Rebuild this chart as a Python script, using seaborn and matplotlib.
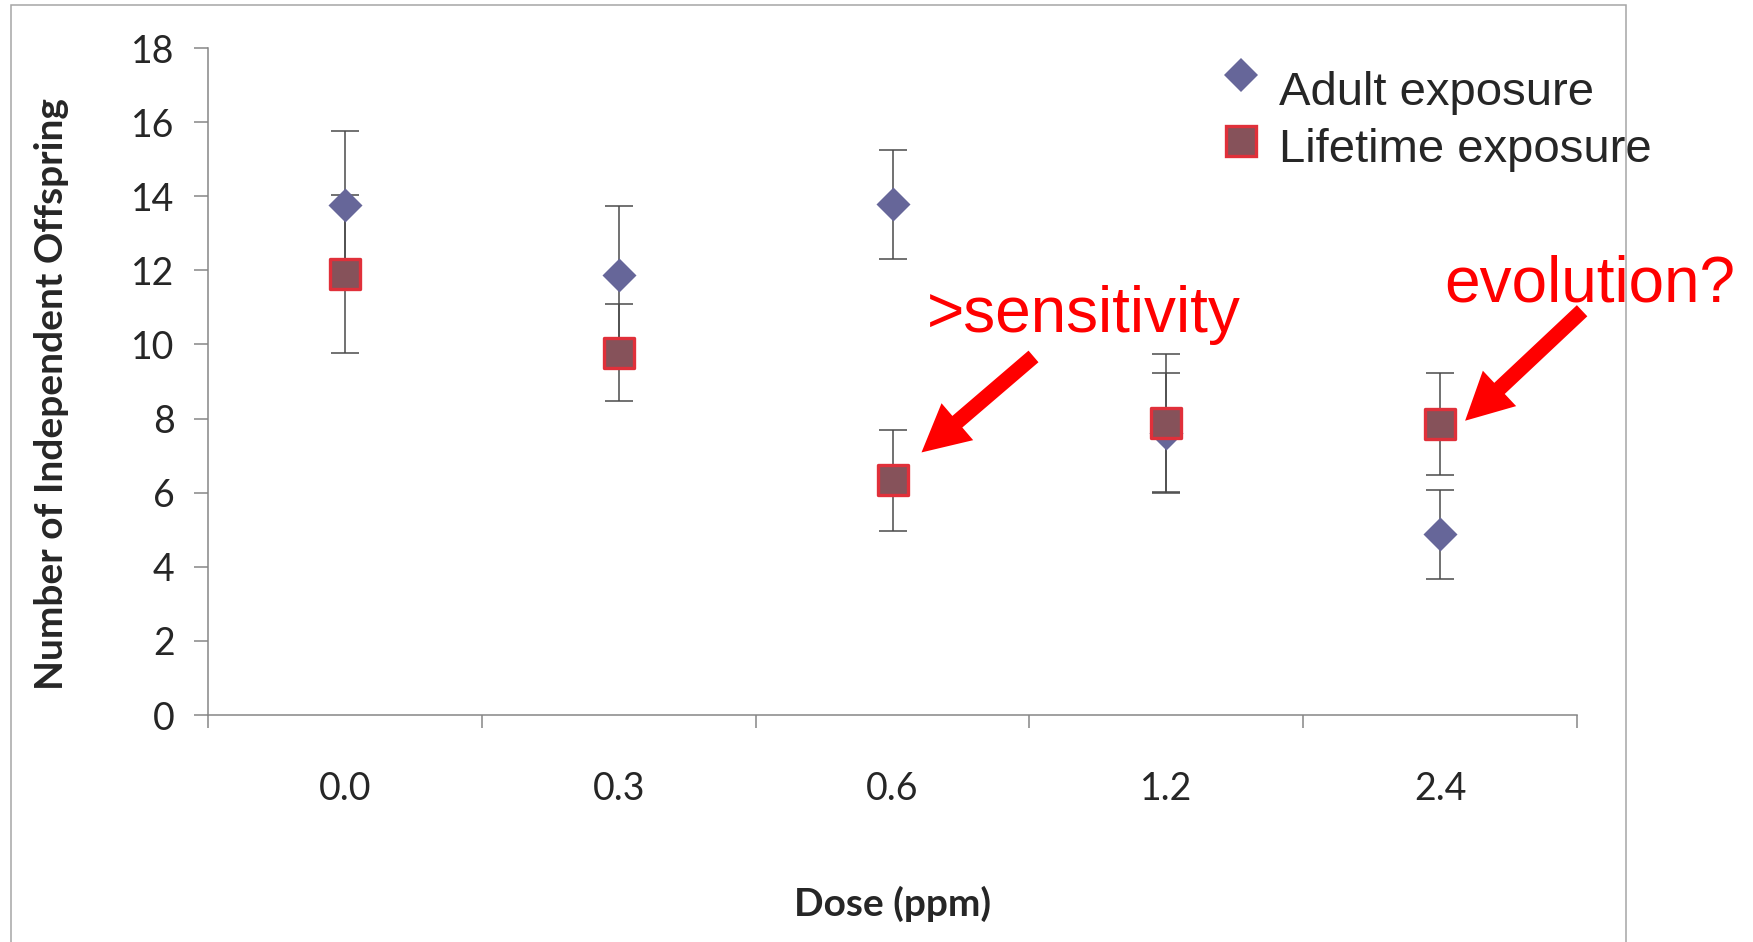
import matplotlib
matplotlib.use("Agg")
import matplotlib.pyplot as plt
import seaborn as sns
import numpy as np
import pandas as pd
from matplotlib.lines import Line2D
from matplotlib.patches import Rectangle
from matplotlib.transforms import offset_copy
from matplotlib.legend_handler import HandlerLine2D

# data
doses = ["0.0", "0.3", "0.6", "1.2", "2.4"]
adult_mean = [13.75, 11.88, 13.78, 7.6, 4.88]
adult_err = [2.02, 1.85, 1.47, 1.62, 1.2]
life_mean = [11.9, 9.78, 6.33, 7.87, 7.86]
life_err = [2.12, 1.3, 1.36, 1.86, 1.37]
y_ticks = [0, 2, 4, 6, 8, 10, 12, 14, 16, 18]

adult = pd.DataFrame({"dose": doses, "mean": adult_mean, "err": adult_err})
life = pd.DataFrame({"dose": doses, "mean": life_mean, "err": life_err})


class RaisedHandler(HandlerLine2D):
    # legend marker sits a bit above the text centre, like the original
    def __init__(self, dy, **kw):
        super().__init__(**kw)
        self.dy = dy

    def create_artists(self, legend, orig_handle, xdescent, ydescent,
                       width, height, fontsize, trans):
        return super().create_artists(legend, orig_handle, xdescent,
                                      ydescent - self.dy, width, height,
                                      fontsize, trans)


sns.set_style("white")
plt.rcParams["font.family"] = ["Lato", "DejaVu Sans"]

W, H = 1753, 942
fig = plt.figure(figsize=(W / 100, H / 100), dpi=100)
ax = fig.add_axes([208 / W, 1 - 715 / H, (1577 - 208) / W, (715 - 48) / H])
ax.patch.set_alpha(0)

axis_grey = "#868686"
bar_grey = "#4a4a4a"
adult_col = "#666699"
life_fill = "#86525a"
life_edge = "#e0303a"

# error bars
ax.errorbar(adult["dose"], adult["mean"], yerr=adult["err"], fmt="none",
            ecolor=bar_grey, elinewidth=1.1, capsize=10, capthick=1.1, zorder=2)
ax.errorbar(life["dose"], life["mean"], yerr=life["err"], fmt="none",
            ecolor=bar_grey, elinewidth=1.1, capsize=10, capthick=1.1, zorder=2)

# markers
sns.scatterplot(data=adult, x="dose", y="mean", marker="D", s=300,
                color=adult_col, linewidth=0, ax=ax, zorder=3)
sns.scatterplot(data=life, x="dose", y="mean", marker="s", s=484,
                color=life_fill, edgecolor=life_edge, linewidth=2.4, ax=ax, zorder=4)

ax.set_xlim(-0.5, len(doses) - 0.5)
ax.set_ylim(0, 18)
ax.set_yticks(y_ticks)

for s in ["top", "right"]:
    ax.spines[s].set_visible(False)
for s in ["left", "bottom"]:
    ax.spines[s].set_color(axis_grey)
    ax.spines[s].set_linewidth(1.1)

ax.tick_params(axis="y", length=10, width=1.1, color=axis_grey, pad=14,
               labelsize=27, left=True)
ax.tick_params(axis="x", which="major", length=0, pad=40, labelsize=27)
ax.set_xticks(np.arange(len(doses) + 1) - 0.5, minor=True)
ax.tick_params(axis="x", which="minor", length=9.5, width=1.1, color=axis_grey,
               bottom=True)

ax.set_xlabel("Dose (ppm)", fontsize=28, fontweight="bold", va="center")
ax.set_ylabel("Number of Independent Offspring", fontsize=28,
              fontweight="bold", va="center")
ax.xaxis.set_label_coords(0.5, (715 - 904) / 667)
ax.yaxis.set_label_coords((52 - 208) / 1369, (715 - 394) / 667)

# legend
handles = [
    Line2D([], [], marker="D", ms=17.3, color=adult_col, lw=0, mew=0),
    Line2D([], [], marker="s", ms=22, mfc=life_fill, mec=life_edge, mew=2.4, lw=0),
]
fig.legend(handles, ["Adult exposure", "Lifetime exposure"], loc="upper left",
           bbox_to_anchor=(1194 / W, 1 - 47 / H), frameon=False, borderpad=0,
           handlelength=1.0, handletextpad=0.31, labelspacing=0.29,
           prop={"family": "Liberation Sans", "size": 34},
           handler_map={handles[0]: RaisedHandler(19),
                        handles[1]: RaisedHandler(6.5)})

# annotations
arrow = dict(arrowstyle="simple,head_length=3.4,head_width=3.5,tail_width=1.1",
             mutation_scale=10, color="red", lw=0, shrinkA=0, shrinkB=0)
ax.annotate("", xy=(2, life_mean[2]),
            xycoords=offset_copy(ax.transData, fig=fig, x=29, y=28, units="dots"),
            xytext=(112, 96), textcoords="offset pixels", arrowprops=arrow)
ax.annotate("", xy=(4, life_mean[4]),
            xycoords=offset_copy(ax.transData, fig=fig, x=25, y=3, units="dots"),
            xytext=(117, 110), textcoords="offset pixels", arrowprops=arrow)
ax.text(2.124, 10.33, ">sensitivity", color="red", fontsize=46,
        family="Liberation Sans", ha="left", va="baseline", clip_on=False)
ax.text(4.015, 11.17, "evolution?", color="red", fontsize=46,
        family="Liberation Sans", ha="left", va="baseline", clip_on=False)

# outer chart border
fig.add_artist(Rectangle((11 / W, -0.05), (1626 - 11) / W, (942 - 5) / H + 0.05,
                         transform=fig.transFigure, fill=False, ec="#a6a6a6",
                         lw=1.1, zorder=-1))

fig.savefig("out.png", dpi=100)
